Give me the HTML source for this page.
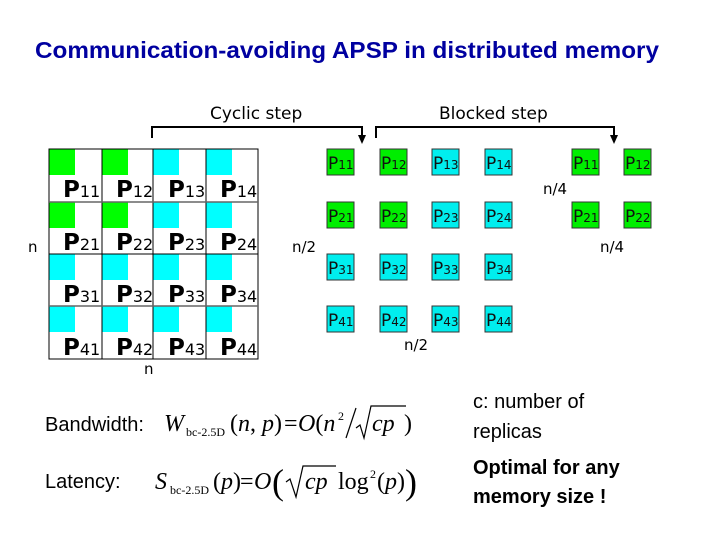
<!DOCTYPE html>
<html><head><meta charset="utf-8"><style>
html,body{margin:0;padding:0;background:#fff;}
svg{display:block;}
</style></head><body>
<svg width="720" height="540" viewBox="0 0 720 540" xmlns="http://www.w3.org/2000/svg">
<rect width="720" height="540" fill="#fff"/>
<text x="35" y="58" font-family="Liberation Sans, sans-serif" font-weight="bold" font-size="23" fill="#0000a0" textLength="624" lengthAdjust="spacingAndGlyphs">Communication-avoiding APSP in distributed memory</text>

<g stroke="#000" stroke-width="2" fill="none">
<polyline points="152,138 152,127 362,127 362,136"/>
<polyline points="376,138 376,127 614,127 614,136"/>
</g>
<polygon points="358,135 366,135 362,144" fill="#000"/>
<polygon points="610,135 618,135 614,144" fill="#000"/>
<text x="210" y="119" font-family="DejaVu Sans, sans-serif" font-size="17" fill="#000">Cyclic step</text>
<text x="439" y="119" font-family="DejaVu Sans, sans-serif" font-size="17" fill="#000">Blocked step</text>

<g fill="#00ff00">
<rect x="49" y="149" width="26" height="26"/><rect x="102" y="149" width="26" height="26"/>
<rect x="49" y="202" width="26" height="26"/><rect x="102" y="202" width="26" height="26"/>
</g>
<g fill="#00ffff">
<rect x="153" y="149" width="26" height="26"/><rect x="206" y="149" width="26" height="26"/>
<rect x="153" y="202" width="26" height="26"/><rect x="206" y="202" width="26" height="26"/>
<rect x="49" y="254" width="26" height="26"/><rect x="102" y="254" width="26" height="26"/><rect x="153" y="254" width="26" height="26"/><rect x="206" y="254" width="26" height="26"/>
<rect x="49" y="306" width="26" height="26"/><rect x="102" y="306" width="26" height="26"/><rect x="153" y="306" width="26" height="26"/><rect x="206" y="306" width="26" height="26"/>
</g>
<g stroke="#000" stroke-width="1" fill="none">
<rect x="49" y="149" width="209" height="210"/>
<line x1="102" y1="149" x2="102" y2="359"/>
<line x1="153" y1="149" x2="153" y2="359"/>
<line x1="206" y1="149" x2="206" y2="359"/>
<line x1="49" y1="202" x2="258" y2="202" stroke="#666" stroke-width="1.5"/>
<line x1="49" y1="254" x2="258" y2="254"/>
<line x1="49" y1="306" x2="258" y2="306" stroke="#666" stroke-width="1.5"/>
</g>
<g font-family="DejaVu Sans, sans-serif" fill="#000">
<g font-size="23">
<text x="63" y="197"><tspan font-weight="bold">P</tspan><tspan font-size="16">11</tspan></text><text x="116" y="197"><tspan font-weight="bold">P</tspan><tspan font-size="16">12</tspan></text><text x="168" y="197"><tspan font-weight="bold">P</tspan><tspan font-size="16">13</tspan></text><text x="220" y="197"><tspan font-weight="bold">P</tspan><tspan font-size="16">14</tspan></text>
<text x="63" y="250"><tspan font-weight="bold">P</tspan><tspan font-size="16">21</tspan></text><text x="116" y="250"><tspan font-weight="bold">P</tspan><tspan font-size="16">22</tspan></text><text x="168" y="250"><tspan font-weight="bold">P</tspan><tspan font-size="16">23</tspan></text><text x="220" y="250"><tspan font-weight="bold">P</tspan><tspan font-size="16">24</tspan></text>
<text x="63" y="302"><tspan font-weight="bold">P</tspan><tspan font-size="16">31</tspan></text><text x="116" y="302"><tspan font-weight="bold">P</tspan><tspan font-size="16">32</tspan></text><text x="168" y="302"><tspan font-weight="bold">P</tspan><tspan font-size="16">33</tspan></text><text x="220" y="302"><tspan font-weight="bold">P</tspan><tspan font-size="16">34</tspan></text>
<text x="63" y="355"><tspan font-weight="bold">P</tspan><tspan font-size="16">41</tspan></text><text x="116" y="355"><tspan font-weight="bold">P</tspan><tspan font-size="16">42</tspan></text><text x="168" y="355"><tspan font-weight="bold">P</tspan><tspan font-size="16">43</tspan></text><text x="220" y="355"><tspan font-weight="bold">P</tspan><tspan font-size="16">44</tspan></text>
</g>
<g font-size="15">
<text x="28" y="252">n</text>
<text x="144" y="374">n</text>
<text x="292" y="252">n/2</text>
<text x="404" y="350">n/2</text>
<text x="543" y="194">n/4</text>
<text x="600" y="252">n/4</text>
</g>
</g>

<g stroke="#333" stroke-width="1">
<g fill="#00ee00">
<rect x="327" y="149" width="27" height="26"/><rect x="380" y="149" width="27" height="26"/>
<rect x="327" y="202" width="27" height="26"/><rect x="380" y="202" width="27" height="26"/>
<rect x="572" y="149" width="27" height="26"/><rect x="624" y="149" width="27" height="26"/>
<rect x="572" y="202" width="27" height="26"/><rect x="624" y="202" width="27" height="26"/>
</g>
<g fill="#00eeee">
<rect x="432" y="149" width="27" height="26"/><rect x="485" y="149" width="27" height="26"/>
<rect x="432" y="202" width="27" height="26"/><rect x="485" y="202" width="27" height="26"/>
<rect x="327" y="254" width="27" height="26"/><rect x="380" y="254" width="27" height="26"/><rect x="432" y="254" width="27" height="26"/><rect x="485" y="254" width="27" height="26"/>
<rect x="327" y="306" width="27" height="26"/><rect x="380" y="306" width="27" height="26"/><rect x="432" y="306" width="27" height="26"/><rect x="485" y="306" width="27" height="26"/>
</g>
</g>
<g font-family="DejaVu Sans, sans-serif" font-size="17" fill="#111">
<text x="328" y="169">P<tspan font-size="12">11</tspan></text><text x="381" y="169">P<tspan font-size="12">12</tspan></text><text x="433" y="169">P<tspan font-size="12">13</tspan></text><text x="486" y="169">P<tspan font-size="12">14</tspan></text>
<text x="328" y="222">P<tspan font-size="12">21</tspan></text><text x="381" y="222">P<tspan font-size="12">22</tspan></text><text x="433" y="222">P<tspan font-size="12">23</tspan></text><text x="486" y="222">P<tspan font-size="12">24</tspan></text>
<text x="328" y="274">P<tspan font-size="12">31</tspan></text><text x="381" y="274">P<tspan font-size="12">32</tspan></text><text x="433" y="274">P<tspan font-size="12">33</tspan></text><text x="486" y="274">P<tspan font-size="12">34</tspan></text>
<text x="328" y="326">P<tspan font-size="12">41</tspan></text><text x="381" y="326">P<tspan font-size="12">42</tspan></text><text x="433" y="326">P<tspan font-size="12">43</tspan></text><text x="486" y="326">P<tspan font-size="12">44</tspan></text>
<text x="573" y="169">P<tspan font-size="12">11</tspan></text><text x="625" y="169">P<tspan font-size="12">12</tspan></text>
<text x="573" y="222">P<tspan font-size="12">21</tspan></text><text x="625" y="222">P<tspan font-size="12">22</tspan></text>
</g>

<g font-family="Liberation Sans, sans-serif" font-size="20" fill="#000">
<text x="45" y="431">Bandwidth:</text>
<text x="45" y="488">Latency:</text>
<text x="473" y="408">c: number of</text>
<text x="473" y="438">replicas</text>
<text x="473" y="474" font-weight="bold">Optimal for any</text>
<text x="473" y="503" font-weight="bold">memory size !</text>
</g>
<g font-family="Liberation Serif, serif" fill="#000" font-size="24">
<!-- Bandwidth formula -->
<text x="164" y="431" font-style="italic">W</text>
<text x="186" y="436" font-size="12">bc-2.5D</text>
<text x="230" y="431">(<tspan font-style="italic">n</tspan>, <tspan font-style="italic">p</tspan>)</text>
<text x="284" y="431">=</text>
<text x="298" y="431"><tspan font-style="italic">O</tspan>(<tspan font-style="italic">n</tspan></text>
<text x="338" y="420" font-size="12">2</text>
<line x1="346" y1="438" x2="356" y2="408" stroke="#000" stroke-width="1.2"/>
<polyline points="356,428 360,425 364,438 371,406 406,406" stroke="#000" stroke-width="1.2" fill="none"/>
<text x="372" y="431" font-style="italic">cp</text>
<text x="404" y="431">)</text>
<!-- Latency formula -->
<text x="155" y="489" font-style="italic">S</text>
<text x="170" y="494" font-size="12">bc-2.5D</text>
<text x="213" y="489">(<tspan font-style="italic">p</tspan>)</text>
<text x="240" y="489">=</text>
<text x="254" y="489" font-style="italic">O</text>
<text x="272" y="494" font-size="36">(</text>
<polyline points="286,482 290,479 296,497 303,466 336,466" stroke="#000" stroke-width="1.2" fill="none"/>
<text x="305" y="489" font-style="italic">cp</text>
<text x="338" y="489">log</text>
<text x="370" y="478" font-size="12">2</text>
<text x="377" y="489">(<tspan font-style="italic">p</tspan>)</text>
<text x="405" y="494" font-size="36">)</text>
</g>
</svg>
</body></html>
